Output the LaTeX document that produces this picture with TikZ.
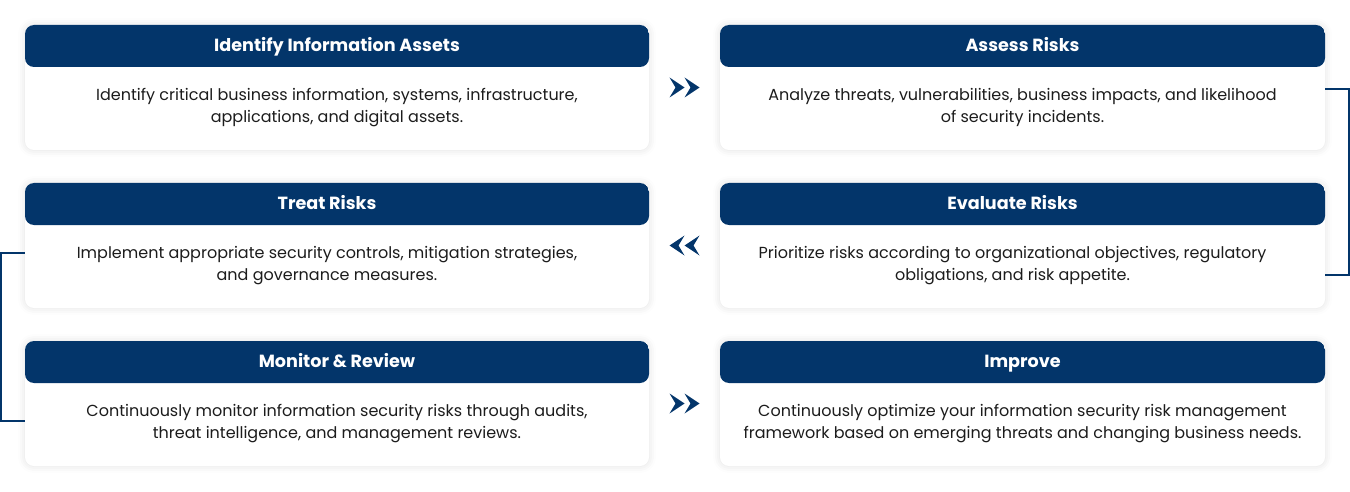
\documentclass[tikz,border=0pt]{standalone}
\usepackage{fontspec}
\setmainfont{Poppins}
\usetikzlibrary{shadows.blur,calc}
\definecolor{navy}{HTML}{03356A}
\definecolor{ink}{HTML}{1C1C1C}
\begin{document}
\begin{tikzpicture}[x=1pt,y=-1pt,
  card/.style={fill=white,rounded corners=9pt,minimum height=125pt,inner sep=0pt,
    blur shadow={shadow xshift=0pt,shadow yshift=0pt,shadow blur radius=7pt,shadow opacity=12},
    path picture={\fill[navy] (path picture bounding box.north west) rectangle ([yshift=-42pt]path picture bounding box.north east);}},
  head/.style={text=white,anchor=base,font=\bfseries\fontsize{17.6}{20}\selectfont},
  body/.style={text=ink,align=center,font=\fontsize{16}{22}\selectfont},
  link/.style={navy,line width=2pt},
  chev/.pic={\foreach \c in {0,15}{\fill[navy] (\c-15,-10) -- (\c,0) -- (\c-15,10) -- (\c-9,0) -- cycle;}}]
\useasboundingbox (0,0) rectangle (1350,492);
\foreach \nm/\cx/\w/\top/\dx/\hd/\bd in {
  ident/337/624/25/0/{Identify Information Assets}/{Identify critical business information, systems, infrastructure,\\applications, and digital assets.},
  assess/1022.5/605/25/0/{Assess Risks}/{Analyze threats, vulnerabilities, business impacts, and likelihood\\of security incidents.},
  treat/337/624/183/-10/{Treat Risks}/{Implement appropriate security controls, mitigation strategies,\\and governance measures.},
  evaluate/1022.5/605/183/-10/{Evaluate Risks}/{Prioritize risks according to organizational objectives, regulatory\\obligations, and risk appetite.},
  monitor/337/624/341/0/{Monitor \& Review}/{Continuously monitor information security risks through audits,\\threat intelligence, and management reviews.},
  improve/1022.5/605/341/0/{Improve}/{Continuously optimize your information security risk management\\framework based on emerging threats and changing business needs.}}{
\node[card,minimum width=\w pt] (\nm) at (\cx,\top+62.5) {};
\node[head] (\nm-h) at ([xshift=\dx pt,yshift=-27pt]\nm.north) {\hd};
\node[body] (\nm-b) at ([xshift=\dx pt,yshift=-83pt]\nm.north) {\bd};
}
\pic at ($(ident.east)!.5!(assess.west)$) {chev};
\pic[xscale=-1] at ($(treat.east)!.5!(evaluate.west)$) {chev};
\pic at ($(monitor.east)!.5!(improve.west)$) {chev};
\draw[link] ([yshift=-64pt]assess.north east) -- ++(24,0) |- ([yshift=-92pt]evaluate.north east);
\draw[link] ([yshift=-70pt]treat.north west) -- ++(-24,0) |- ([yshift=-80pt]monitor.north west);
\end{tikzpicture}
\end{document}
